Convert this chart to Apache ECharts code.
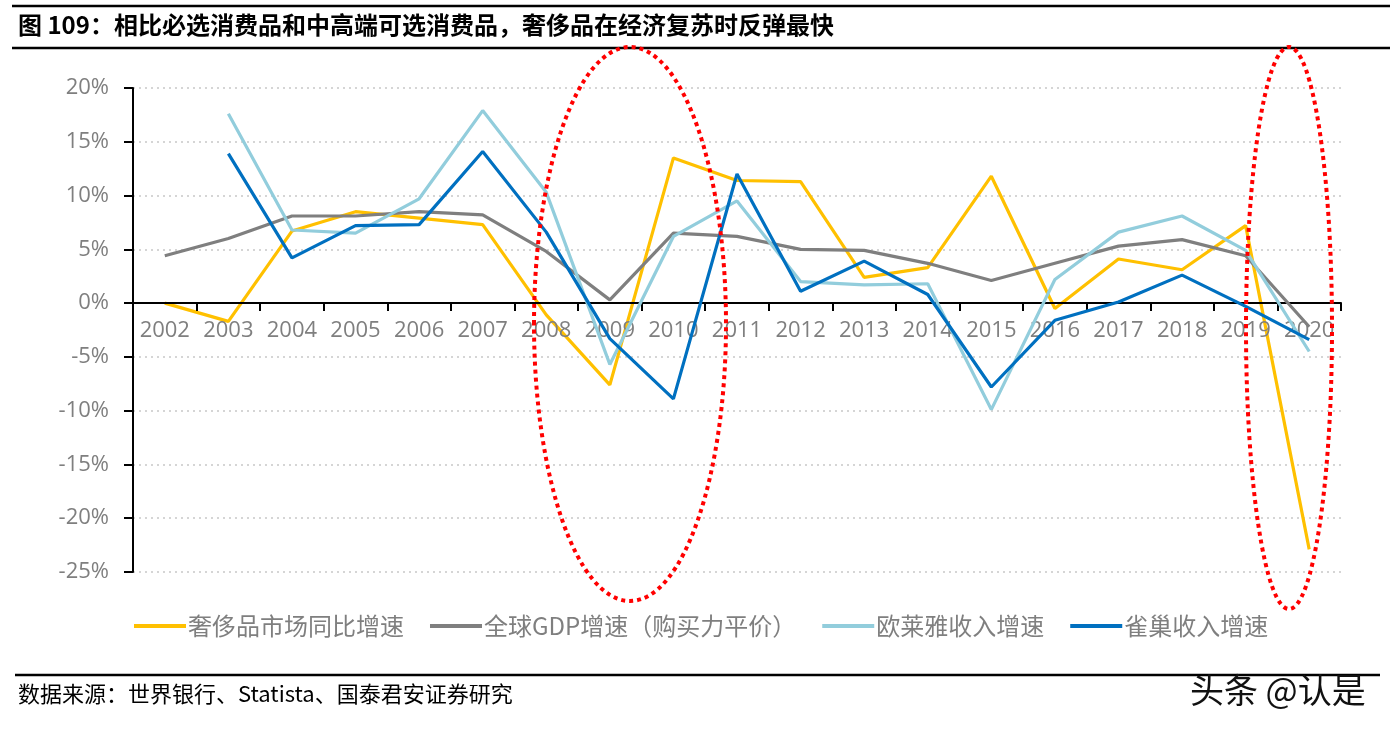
<!DOCTYPE html>
<html>
<head>
<meta charset="utf-8">
<script src="https://cdn.jsdelivr.net/npm/echarts@6/dist/echarts.min.js"></script>
<style>
html,body{margin:0;padding:0;background:#fff;}
#c{width:1397px;height:736px;}
</style>
</head>
<body>
<div id="c"></div>
<script>
var years = ['2002','2003','2004','2005','2006','2007','2008','2009','2010','2011','2012','2013','2014','2015','2016','2017','2018','2019','2020'];
var luxury = [0.0, -1.7, 6.7, 8.5, 7.9, 7.3, -1.1, -7.6, 13.5, 11.4, 11.3, 2.4, 3.3, 11.8, -0.5, 4.1, 3.1, 7.2, -22.9];
var gdp = [4.4, 6.0, 8.1, 8.1, 8.5, 8.2, 4.8, 0.3, 6.5, 6.2, 5.0, 4.9, 3.7, 2.1, 3.7, 5.3, 5.9, 4.4, -2.2];
var loreal = [null, 17.6, 6.8, 6.5, 9.7, 17.9, 10.3, -5.7, 6.2, 9.5, 2.0, 1.7, 1.8, -9.9, 2.2, 6.6, 8.1, 4.9, -4.5];
var nestle = [null, 13.9, 4.2, 7.2, 7.3, 14.1, 6.6, -3.3, -8.9, 12.0, 1.1, 3.9, 0.8, -7.8, -1.6, 0.1, 2.6, -0.3, -3.4];
var seriesNames = ['奢侈品市场同比增速', '全球GDP增速（购买力平价）', '欧莱雅收入增速', '雀巢收入增速'];
var seriesColors = ['#FFC000', '#7F7F7F', '#92CDDC', '#0070C0'];
var yTicks = [-25, -20, -15, -10, -5, 0, 5, 10, 15, 20];

var chart = echarts.init(document.getElementById('c'), null, {renderer: 'canvas'});
var latin = '"Open Sans", "Noto Sans CJK SC", sans-serif';
var cjk = '"Noto Sans CJK SC", "Open Sans", sans-serif';
var dataSets = [luxury, gdp, loreal, nestle];

var gridTop = 88, gridBottom = 164, chartH = 736;
var yMin = yTicks[0], yMax = yTicks[yTicks.length - 1];
var plotH = chartH - gridTop - gridBottom;
// shift the category axis up from the grid bottom to the 0 line
var zeroOffset = -plotH * (0 - yMin) / (yMax - yMin);

var option = {
  backgroundColor: '#fff',
  animation: false,
  grid: {left: 133, right: 56, top: gridTop, bottom: gridBottom, containLabel: false},
  legend: {
    left: 129, top: 609,
    itemWidth: 52, itemHeight: 4, itemGap: 26,
    icon: 'rect',
    textStyle: {fontFamily: cjk, fontSize: 24, color: '#7F7F7F', padding: [0, 0, 0, -3]},
    data: seriesNames
  },
  xAxis: {
    type: 'category',
    data: years,
    boundaryGap: true,
    position: 'bottom',
    offset: zeroOffset,
    axisLine: {onZero: false, lineStyle: {color: '#000', width: 2}},
    axisTick: {show: true, length: 8, alignWithLabel: false, lineStyle: {color: '#000', width: 2}},
    axisLabel: {fontFamily: latin, fontSize: 22, color: '#7F7F7F', margin: 17, interval: 0},
    splitLine: {show: false},
    z: 3
  },
  yAxis: {
    type: 'value',
    min: yMin, max: yMax, interval: 5,
    axisLine: {show: true, lineStyle: {color: '#000', width: 2}},
    axisTick: {show: true, length: 9, lineStyle: {color: '#000', width: 2}},
    axisLabel: {fontFamily: latin, fontSize: 22, color: '#7F7F7F', margin: 24, formatter: function (v) { return v + '%'; }},
    splitLine: {show: true, lineStyle: {color: '#C8C8C8', width: 1.5, type: [2, 4]}}
  },
  series: seriesNames.map(function (n, i) {
    return {
      name: n, type: 'line', data: dataSets[i],
      symbol: 'none', connectNulls: false,
      lineStyle: {color: seriesColors[i], width: 3.2},
      itemStyle: {color: seriesColors[i]},
      z: 2 + i
    };
  }),
  graphic: [
    {type: 'line', shape: {x1: 12, y1: 6, x2: 1390, y2: 6}, style: {stroke: '#000', lineWidth: 2.5}},
    {type: 'text', left: 18, top: 13, style: {text: '图 109：相比必选消费品和中高端可选消费品，奢侈品在经济复苏时反弹最快', font: 'bold 24px "Noto Sans CJK SC", sans-serif', fill: '#000'}},
    {type: 'line', shape: {x1: 12, y1: 48, x2: 1390, y2: 48}, style: {stroke: '#000', lineWidth: 2.5}},
    {type: 'line', shape: {x1: 15, y1: 675, x2: 1380, y2: 675}, style: {stroke: '#000', lineWidth: 2.5}},
    {type: 'text', left: 18, top: 683, style: {text: '数据来源：世界银行、Statista、国泰君安证券研究', font: '22px "Noto Sans CJK SC", sans-serif', fill: '#000'}},
    {type: 'text', left: 1190, top: 673, style: {text: '头条 @认是', font: '34px "Noto Sans CJK SC", sans-serif', fill: '#111', shadowColor: 'rgba(0,0,0,0.4)', shadowBlur: 2, shadowOffsetX: 1, shadowOffsetY: 1}},
    {type: 'ellipse', z: 100, shape: {cx: 630, cy: 324, rx: 96, ry: 277}, style: {fill: 'none', stroke: '#FF0000', lineWidth: 4, lineDash: [4, 4]}},
    {type: 'ellipse', z: 100, shape: {cx: 1289, cy: 328, rx: 43, ry: 281}, style: {fill: 'none', stroke: '#FF0000', lineWidth: 4, lineDash: [4, 4]}}
  ]
};
chart.setOption(option);
</script>
</body>
</html>
